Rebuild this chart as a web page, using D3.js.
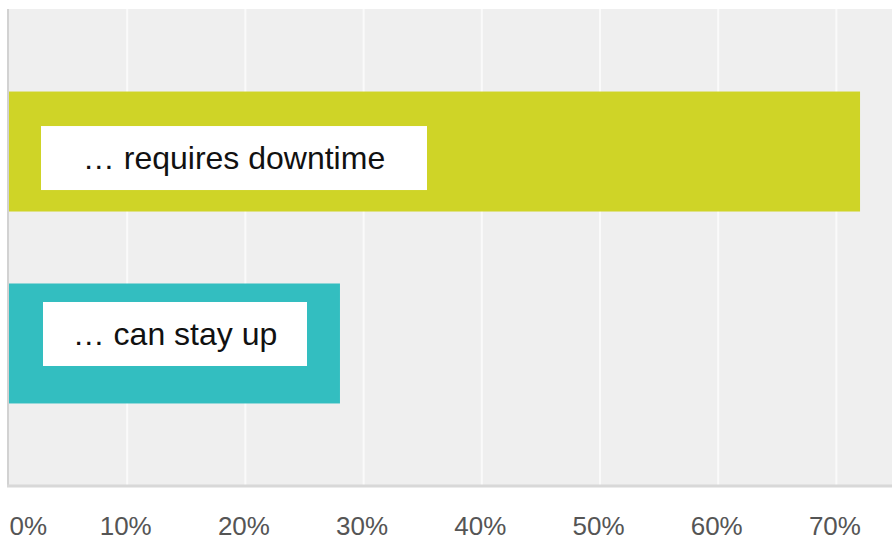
<!DOCTYPE html>
<html><head><meta charset="utf-8">
<script src="https://cdn.jsdelivr.net/npm/d3@7"></script>
<style>html,body{margin:0;padding:0;background:#fff;}svg{display:block;}</style>
</head><body>
<svg id="c" width="892" height="541"></svg>
<script>
const categories = ["… requires downtime", "… can stay up"];
const values = [0.72, 0.28];
const colors = ["#cfd427", "#33bec0"];
const tickValues = [0, 0.1, 0.2, 0.3, 0.4, 0.5, 0.6, 0.7];
const tickLabels = ["0%", "10%", "20%", "30%", "40%", "50%", "60%", "70%"];

(function () {
const svg = d3.select("#c");
const W = 892;
const pLeft = 9, pTop = 9, pBottom = 486;
const x = d3.scaleLinear().domain([0, 0.75]).range([pLeft, pLeft + 0.75 * 1182]);
const y = d3.scaleBand().domain(categories).range([pTop, pBottom]).paddingInner(0.375).paddingOuter(0.43);

// plot background
svg.append("rect").attr("x", pLeft).attr("y", pTop).attr("width", W - pLeft).attr("height", pBottom - pTop - 1).attr("fill", "#efefef");

// gridlines
svg.append("g").selectAll("line").data(tickValues.slice(1)).join("line")
  .attr("x1", d => x(d)).attr("x2", d => x(d)).attr("y1", pTop).attr("y2", pBottom)
  .attr("stroke", "#fafafa").attr("stroke-width", 2);

// axis lines
svg.append("line").attr("x1", 8).attr("x2", 8).attr("y1", pTop).attr("y2", pBottom + 1).attr("stroke", "#d2d2d2").attr("stroke-width", 2);
svg.append("line").attr("x1", 7).attr("x2", W).attr("y1", pBottom).attr("y2", pBottom).attr("stroke", "#d8d8d8").attr("stroke-width", 3);

// bars
svg.append("g").selectAll("rect").data(categories).join("rect")
  .attr("x", x(0)).attr("y", d => y(d)).attr("width", (d, i) => x(values[i]) - x(0)).attr("height", y.bandwidth())
  .attr("fill", (d, i) => colors[i]);

// label boxes
const boxes = [
  {dx: 32, dy: 34.5, w: 386, h: 64},
  {dx: 34, dy: 18.5, w: 264, h: 64}
];
const lg = svg.append("g").selectAll("g").data(categories).join("g")
  .attr("transform", (d, i) => `translate(${x(0) + boxes[i].dx},${y(d) + boxes[i].dy})`);
lg.append("rect").attr("width", (d, i) => boxes[i].w).attr("height", (d, i) => boxes[i].h).attr("fill", "#fff");
lg.append("text").attr("x", (d, i) => boxes[i].w / 2).attr("y", (d, i) => boxes[i].h / 2)
  .attr("dy", "0.35em").attr("text-anchor", "middle")
  .attr("font-family", "Liberation Sans, Arial, sans-serif").attr("font-size", 32).attr("fill", "#111")
  .text(d => d);

// x axis
const axis = d3.axisBottom(x).tickValues(tickValues).tickFormat((d, i) => tickLabels[i]).tickSize(0);
const ag = svg.append("g").attr("transform", `translate(0,${pBottom})`).call(axis);
ag.select(".domain").remove();
ag.selectAll("text")
  .attr("font-family", "Liberation Sans, Arial, sans-serif").attr("font-size", 26).attr("fill", "#555")
  .attr("y", 0).attr("dy", 0)
  .attr("transform", "translate(-2,49)")
  .attr("text-anchor", (d, i) => i === 0 ? "start" : "middle")
  .attr("x", (d, i) => i === 0 ? 2 : 0);
})();
</script>
</body></html>
